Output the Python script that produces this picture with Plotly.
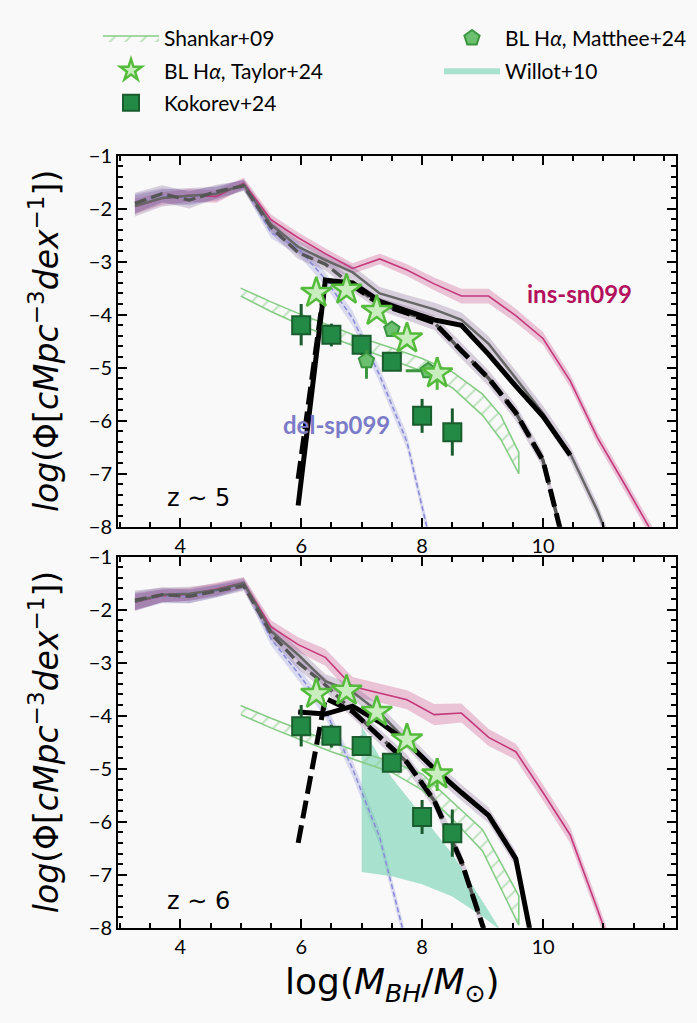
import plotly.graph_objects as go

# ---------------- data ----------------
X = [3.25, 3.70, 4.15, 4.60, 5.05, 5.50, 5.95, 6.40, 6.85, 7.30,
     7.75, 8.20, 8.65, 9.10, 9.55, 10.00, 10.45, 10.90, 11.35, 11.80]
N = None

# z ~ 5
ins5 = [-1.96, -1.81, -1.75, -1.77, -1.52, -2.21, -2.55, -2.85, -3.13, -2.95,
        -3.16, -3.42, -3.65, -3.65, -4.02, -4.45, -5.25, -6.32, -7.20, -8.10]
ins5_err = [0.14, 0.12, 0.12, 0.12, 0.10, 0.10, 0.10, 0.10, 0.10, 0.10,
            0.11, 0.12, 0.14, 0.14, 0.13, 0.12, 0.12, 0.12, 0.12, 0.12]
del5 = [-1.90, -1.75, -1.80, -1.70, -1.55, -2.45, -2.75, -3.33, -4.07, -5.15,
        -6.40, -8.60, N, N, N, N, N, N, N, N]
del5_err = [0.18, 0.14, 0.14, 0.12, 0.10, 0.11, 0.12, 0.13, 0.14, 0.14,
            0.14, 0.14, 0, 0, 0, 0, 0, 0, 0, 0]
sol5 = [-1.95, -1.80, -1.76, -1.72, -1.55, -2.30, -2.72, -2.97, -3.20, -3.60,
        -3.75, -3.90, -4.10, -4.55, -5.20, -5.86, -6.62, -7.70, -9.00, N]
sol5_err = [0.20, 0.16, 0.15, 0.13, 0.10, 0.12, 0.12, 0.12, 0.12, 0.12,
            0.12, 0.13, 0.14, 0.14, 0.14, 0.14, 0.14, 0.14, 0.14, 0]
dsh5 = [-1.90, -1.72, -1.84, -1.68, -1.57, -2.35, -2.83, -3.05, -3.45, -3.80,
        -3.97, -4.15, -4.68, -5.20, -5.85, -6.75, -8.80, N, N, N]
dsh5_err = [0.20, 0.16, 0.16, 0.13, 0.10, 0.12, 0.12, 0.12, 0.12, 0.12,
            0.13, 0.14, 0.15, 0.15, 0.15, 0.15, 0.15, 0, 0, 0]
obs_sol5 = [N, N, N, N, N, N, -7.60, -3.35, -3.40, -3.75,
            -3.93, -4.10, -4.20, -4.75, -5.35, -5.92, -6.65, N, N, N]
obs_dsh5 = [N, N, N, N, N, N, -7.10, -3.35, -3.45, -3.80,
            -3.97, -4.15, -4.68, -5.20, -5.85, -6.75, -8.80, N, N, N]

# z ~ 6
ins6 = [-1.86, -1.74, -1.71, -1.61, -1.49, -2.32, -2.66, -2.90, -3.45, -3.58,
        -3.70, -3.98, -3.95, -4.41, -4.68, -5.45, -6.25, -7.65, -9.10, N]
ins6_err = [0.15, 0.12, 0.12, 0.12, 0.10, 0.12, 0.14, 0.16, 0.18, 0.18,
            0.18, 0.20, 0.18, 0.16, 0.15, 0.15, 0.15, 0.15, 0.15, 0]
del6 = [-1.85, -1.75, -1.75, -1.65, -1.52, -2.55, -3.20, -3.90, -5.00, -6.30,
        -8.35, N, N, N, N, N, N, N, N, N]
del6_err = [0.16, 0.13, 0.13, 0.12, 0.10, 0.12, 0.13, 0.14, 0.15, 0.15,
            0.15, 0, 0, 0, 0, 0, 0, 0, 0, 0]
sol6 = [-1.85, -1.72, -1.70, -1.63, -1.50, -2.40, -2.85, -3.35, -3.55, -3.95,
        -4.48, -5.00, -5.45, -5.88, -6.70, -9.30, N, N, N, N]
sol6_err = [0.18, 0.14, 0.13, 0.12, 0.10, 0.12, 0.12, 0.13, 0.14, 0.14,
            0.15, 0.15, 0.15, 0.15, 0.15, 0.15, 0, 0, 0, 0]
dsh6 = [-1.82, -1.72, -1.75, -1.65, -1.55, -2.45, -3.00, -3.42, -3.90, -4.40,
        -4.88, -5.60, -6.75, -8.30, N, N, N, N, N, N]
dsh6_err = [0.18, 0.14, 0.13, 0.12, 0.10, 0.12, 0.12, 0.13, 0.14, 0.14,
            0.15, 0.15, 0.15, 0.15, 0, 0, 0, 0, 0, 0]
obs_sol6 = [N, N, N, N, N, N, -3.93, -3.97, -3.82, -4.12,
            -4.50, -5.00, -5.45, -5.88, -6.70, -9.30, N, N, N, N]
obs_dsh6 = [N, N, N, N, N, N, -6.40, -3.67, -3.92, -4.40,
            -4.88, -5.60, -6.75, -8.30, N, N, N, N, N, N]

# Shankar+09 band
SH_X = [5.0, 5.5, 6.0, 6.5, 7.0, 7.5, 8.0, 8.5, 9.0, 9.3, 9.6]
sh5_hi = [-3.50, -3.76, -4.00, -4.22, -4.44, -4.63, -4.83, -5.08, -5.50, -5.90, -6.60]
sh5_lo = [-3.65, -3.94, -4.20, -4.43, -4.65, -4.86, -5.07, -5.38, -5.90, -6.35, -7.00]
sh6_hi = [-3.81, -4.05, -4.27, -4.50, -4.70, -4.87, -5.10, -5.62, -6.15, -6.77, -7.40]
sh6_lo = [-3.98, -4.23, -4.46, -4.68, -4.88, -5.07, -5.40, -5.95, -6.55, -7.26, -7.95]

# Willot+10 band (z~6)
W_X = [7.0, 7.5, 8.0, 8.5, 9.0, 9.3]
w_hi = [-4.20, -5.17, -5.89, -6.61, -7.50, -8.05]
w_lo = [-6.95, -7.03, -7.18, -7.41, -7.79, -8.05]

# Kokorev+24
KK_X = [6.0, 6.5, 7.0, 7.5, 8.0, 8.5]
KK_Y = [-4.20, -4.38, -4.57, -4.89, -5.91, -6.22]
KK_UP = [0.40, 0.21, 0.19, 0.08, 0.32, 0.45]
KK_DN = [0.38, 0.22, 0.19, 0.08, 0.32, 0.44]

# Taylor+24
TY_X = [6.25, 6.75, 7.25, 7.75, 8.25]
TY_Y = [-3.59, -3.53, -3.93, -4.45, -5.11]
TY_ERR = [0, 0, 0, 0, 0.31]

# Matthee+24 (z~5 only)
MT_X = [7.08, 7.50, 8.10]
MT_Y = [-4.87, -4.28, -5.06]
MT_XERR = [0.0, 0.0, 0.37]
MT_UP = [0.20, 0.08, 0.12]
MT_DN = [0.34, 0.08, 0.12]

XTICKS = [4, 6, 8, 10]
YTICKS = [-8, -7, -6, -5, -4, -3, -2, -1]

# ---------------- styles ----------------
BG = '#f9f9f9'
FONT = 'Lato'
MATH = 'DejaVu Sans'
C_INS = '#c4397c'
C_INS_BAND = 'rgba(196,57,124,0.28)'
C_DEL = '#8a8ad8'
C_DEL_BAND = 'rgba(138,138,216,0.28)'
C_PUR_BAND = 'rgba(110,70,130,0.24)'
C_SH = '#86cc86'
C_WIL = 'rgba(102,205,170,0.55)'

fig = go.Figure()


def add_band(x, y, e, color, xa, ya):
    pts = [(a, b, c) for a, b, c in zip(x, y, e) if b is not None]
    xs = [p[0] for p in pts]
    hi = [p[1] + p[2] for p in pts]
    lo = [p[1] - p[2] for p in pts]
    fig.add_trace(go.Scatter(x=xs + xs[::-1], y=hi + lo[::-1], fill='toself',
                             fillcolor=color, line=dict(width=0), mode='lines',
                             showlegend=False, hoverinfo='skip', xaxis=xa, yaxis=ya))


def add_line(x, y, color, width, dash, xa, ya):
    fig.add_trace(go.Scatter(x=x, y=y, mode='lines', line=dict(color=color, width=width, dash=dash),
                             connectgaps=False, showlegend=False, hoverinfo='skip', xaxis=xa, yaxis=ya))


panels = [
    dict(xa='x', ya='y', ins=ins5, ins_e=ins5_err, dl=del5, dl_e=del5_err, sol=sol5, sol_e=sol5_err,
         dsh=dsh5, dsh_e=dsh5_err, osol=obs_sol5, odsh=obs_dsh5, shh=sh5_hi, shl=sh5_lo, top=True),
    dict(xa='x2', ya='y2', ins=ins6, ins_e=ins6_err, dl=del6, dl_e=del6_err, sol=sol6, sol_e=sol6_err,
         dsh=dsh6, dsh_e=dsh6_err, osol=obs_sol6, odsh=obs_dsh6, shh=sh6_hi, shl=sh6_lo, top=False),
]

for p in panels:
    xa, ya = p['xa'], p['ya']
    add_band(X, p['ins'], p['ins_e'], C_INS_BAND, xa, ya)
    add_band(X, p['dl'], p['dl_e'], C_DEL_BAND, xa, ya)
    add_band(X, p['sol'], p['sol_e'], C_PUR_BAND, xa, ya)
    add_band(X, p['dsh'], p['dsh_e'], C_PUR_BAND, xa, ya)

    if not p['top']:
        fig.add_trace(go.Scatter(x=W_X + W_X[::-1], y=w_hi + w_lo[::-1], fill='toself',
                                 fillcolor=C_WIL, line=dict(width=0), mode='lines',
                                 name='Willot+10', legend='legend2', legendrank=2,
                                 legendgroup='wil', showlegend=True, hoverinfo='skip',
                                 xaxis=xa, yaxis=ya))

    fig.add_trace(go.Scatter(x=SH_X + SH_X[::-1], y=p['shh'] + p['shl'][::-1], fill='toself',
                             fillcolor='rgba(0,0,0,0)',
                             fillpattern=dict(shape='/', fgcolor=C_SH, bgcolor='rgba(0,0,0,0)',
                                              size=11, solidity=0.18),
                             line=dict(color=C_SH, width=1.6), mode='lines',
                             name='Shankar+09', legendgroup='sh', legendrank=1,
                             showlegend=p['top'], hoverinfo='skip', xaxis=xa, yaxis=ya))

    add_line(X, p['ins'], C_INS, 1.6, 'solid', xa, ya)
    add_line(X, p['dl'], C_DEL, 1.5, '5px,3px', xa, ya)
    add_line(X, p['sol'], '#666666', 2.5, 'solid', xa, ya)
    add_line(X, p['dsh'], '#555555', 3.4, '12px,5px', xa, ya)
    add_line(X, p['osol'], 'black', 5, 'solid', xa, ya)
    add_line(X, p['odsh'], 'black', 5, '18px,7px', xa, ya)

    fig.add_trace(go.Scatter(x=KK_X, y=KK_Y, mode='markers',
                             marker=dict(symbol='square', size=18, color='#238a45',
                                         line=dict(color='#1a5c2e', width=2)),
                             error_y=dict(type='data', array=KK_UP, arrayminus=KK_DN,
                                          color='#1a5c2e', thickness=3, width=0),
                             name='Kokorev+24', legendgroup='kk', legendrank=3,
                             showlegend=p['top'], hoverinfo='skip', xaxis=xa, yaxis=ya))
    if p['top']:
        fig.add_trace(go.Scatter(x=MT_X, y=MT_Y, mode='markers',
                                 marker=dict(symbol='pentagon', size=16, color='#6cbf6e',
                                             line=dict(color='#3a963f', width=2)),
                                 error_y=dict(type='data', array=MT_UP, arrayminus=MT_DN,
                                              color='#3a963f', thickness=3, width=0),
                                 error_x=dict(type='data', array=MT_XERR,
                                              color='#3a963f', thickness=3, width=0),
                                 name='BL H<i>α</i>, Matthee+24', legend='legend2', legendrank=1,
                                 legendgroup='mt', showlegend=True, hoverinfo='skip',
                                 xaxis=xa, yaxis=ya))
    fig.add_trace(go.Scatter(x=TY_X, y=TY_Y, mode='markers',
                             marker=dict(symbol='star', size=23, color='#c9edbf',
                                         line=dict(color='#55bb3c', width=2.5)),
                             error_y=dict(type='data', array=TY_ERR,
                                          color='#55bb3c', thickness=3, width=0),
                             name='BL H<i>α</i>, Taylor+24', legendgroup='ty', legendrank=2,
                             showlegend=p['top'], hoverinfo='skip', xaxis=xa, yaxis=ya))

# ---------------- axes ----------------
W, H = 697, 1023
xdom = [118 / W, 676 / W]
ydom_top = [1 - 526 / H, 1 - 146 / H]
ydom_bot = [1 - 936.7 / H, 1 - 556.7 / H]

common = dict(showline=True, linecolor='black', linewidth=2, mirror='allticks',
              ticks='inside', ticklen=9, tickwidth=2, tickcolor='black',
              showgrid=False, zeroline=False,
              tickfont=dict(size=20, color='black', family=FONT))
xaxis_kw = dict(common, range=[2.97, 12.2], tickmode='array', tickvals=XTICKS,
                minor=dict(ticks='inside', ticklen=5, tickwidth=1.5, tickcolor='black',
                           tickmode='linear', tick0=0, dtick=0.5, showgrid=False))
yaxis_kw = dict(common, range=[-8, -1], tickmode='array', tickvals=YTICKS,
                minor=dict(ticks='inside', ticklen=5, tickwidth=1.5, tickcolor='black',
                           tickmode='linear', tick0=0, dtick=0.2, showgrid=False))

leg_font = dict(size=21, family=FONT, color='black')
fig.update_layout(
    width=W, height=H,
    margin=dict(l=0, r=0, t=0, b=0),
    paper_bgcolor=BG, plot_bgcolor=BG,
    font=dict(family=FONT, color='black'),
    xaxis=dict(xaxis_kw, domain=xdom, anchor='y'),
    yaxis=dict(yaxis_kw, domain=ydom_top, anchor='x'),
    xaxis2=dict(xaxis_kw, domain=xdom, anchor='y2'),
    yaxis2=dict(yaxis_kw, domain=ydom_bot, anchor='x2'),
    legend=dict(x=98 / W, xanchor='left', y=1 - 5 / H, yanchor='top',
                bgcolor='rgba(0,0,0,0)', font=leg_font,
                tracegroupgap=2, itemwidth=56, traceorder='grouped'),
    legend2=dict(x=439 / W, xanchor='left', y=1 - 5 / H, yanchor='top',
                 bgcolor='rgba(0,0,0,0)', font=leg_font,
                 tracegroupgap=2, itemwidth=56, traceorder='grouped'),
)

ylab = '<i>log</i>(Φ[<i>cMpc</i><sup>−3</sup><i>dex</i><sup>−1</sup>])'
annos = [
    dict(text=ylab, x=44 / W, y=(ydom_top[0] + ydom_top[1]) / 2, xref='paper', yref='paper',
         xanchor='center', yanchor='middle',
         textangle=-90, showarrow=False, font=dict(size=33, family=MATH)),
    dict(text=ylab, x=44 / W, y=(ydom_bot[0] + ydom_bot[1]) / 2, xref='paper', yref='paper',
         xanchor='center', yanchor='middle',
         textangle=-90, showarrow=False, font=dict(size=33, family=MATH)),
    dict(text='log(<i>M</i><sub><i>BH</i></sub>/<i>M</i><sub>⊙</sub>)', x=392 / W, y=1 - 995 / H,
         xref='paper', yref='paper', xanchor='center', yanchor='middle',
         showarrow=False, font=dict(size=36, family=MATH)),
    dict(text='z ∼ 5', x=4.3, y=-7.45, xref='x', yref='y', showarrow=False,
         font=dict(size=24, family=MATH, color='black')),
    dict(text='z ∼ 6', x=4.3, y=-7.49, xref='x2', yref='y2', showarrow=False,
         font=dict(size=24, family=MATH, color='black')),
    dict(text='<b>ins-sn099</b>', x=10.61, y=-3.6, xref='x', yref='y', showarrow=False,
         font=dict(size=24, family=FONT, color='#b3115e')),
    dict(text='<b>del-sp099</b>', x=6.58, y=-6.08, xref='x', yref='y', showarrow=False,
         font=dict(size=24, family=FONT, color='#7b7bc8')),
]
fig.update_layout(annotations=annos)

fig.write_html('out.html')
